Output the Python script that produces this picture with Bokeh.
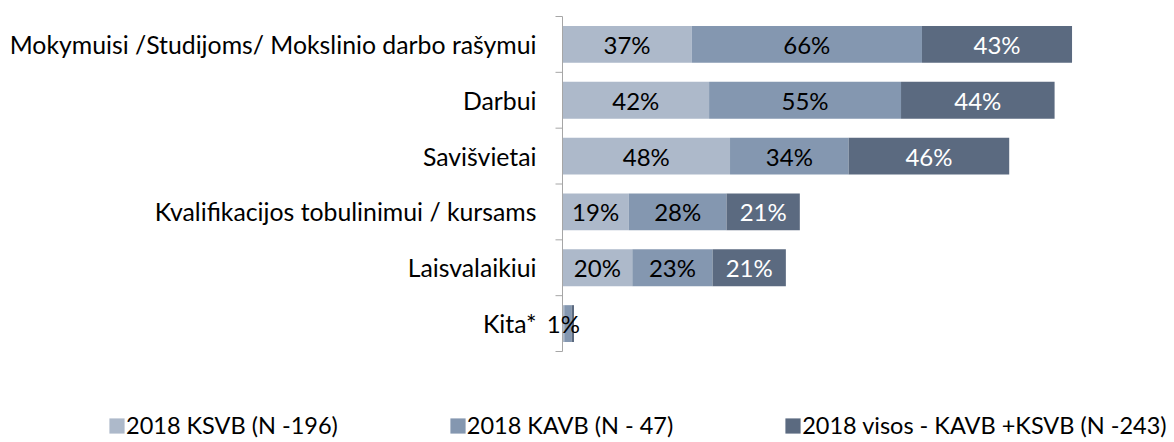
from bokeh.plotting import figure
from bokeh.models import Range1d, Legend, LegendItem, ColumnDataSource
from bokeh.core.properties import value
from bokeh.embed import file_html
from bokeh.resources import INLINE

categories = ["Mokymuisi /Studijoms/ Mokslinio darbo rašymui", "Darbui", "Savišvietai",
              "Kvalifikacijos tobulinimui / kursams", "Laisvalaikiui", "Kita*"]
ksvb = [37, 42, 48, 19, 20, 0.5]
kavb = [66, 55, 34, 28, 23, 2.1]
visos = [43, 44, 46, 21, 21, 0.7]
ksvb_labels = ["37%", "42%", "48%", "19%", "20%", "1%"]
kavb_labels = ["66%", "55%", "34%", "28%", "23%", ""]
visos_labels = ["43%", "44%", "46%", "21%", "21%", ""]
series_names = ["2018 KSVB (N -196)", "2018 KAVB (N - 47)", "2018 visos - KAVB +KSVB (N -243)"]
colors = ["#ADB9CA", "#8497B0", "#5B6A80"]
text_colors = ["#000000", "#000000", "#FFFFFF"]

FONT = "Lato"
W, H = 1174, 442
AXIS_PX = 562          # pixel position of the value axis
TOP_PX, BOTTOM_PX = 16, 351
PX_PER_PCT = 3.49

n = len(categories)
ys = [i + 0.5 for i in range(n)]
px_per_row = (BOTTOM_PX - TOP_PX) / n

x_range = Range1d(-AXIS_PX / PX_PER_PCT, (W - AXIS_PX) / PX_PER_PCT)
y_range = Range1d(n + (H - BOTTOM_PX) / px_per_row, -TOP_PX / px_per_row)

p = figure(width=W, height=H, output_backend="svg", toolbar_location=None,
           x_range=x_range, y_range=y_range,
           min_border_left=0, min_border_right=0, min_border_top=0, min_border_bottom=0)
p.outline_line_color = None
p.xgrid.visible = False
p.ygrid.visible = False
p.xaxis.visible = False
p.yaxis.visible = False

# bars
series = [ksvb, kavb, visos]
labels = [ksvb_labels, kavb_labels, visos_labels]
left = [0.0] * n
renderers = []
sources = []
for s, lab, col in zip(series, labels, colors):
    right = [l + v for l, v in zip(left, s)]
    src = ColumnDataSource(dict(y=ys, left=left, right=right,
                                mid=[(l + r) / 2 for l, r in zip(left, right)], lab=lab))
    r = p.hbar(y="y", left="left", right="right", height=0.66, source=src,
               fill_color=col, line_color=None)
    renderers.append(r)
    sources.append(src)
    left = right

# category axis: line, boundary ticks, labels
tick_len = 7 / PX_PER_PCT
bounds = list(range(n + 1))
p.segment(x0=[0], y0=[0], x1=[0], y1=[n], line_color="#A6A6A6", line_width=1)
p.segment(x0=[-tick_len] * len(bounds), y0=bounds, x1=[0] * len(bounds), y1=bounds,
          line_color="#A6A6A6", line_width=1)
p.text(x=[0] * n, y=ys, text=categories, x_offset=-26, text_align="right",
       text_baseline="middle", text_color="#000000", text_font=value(FONT),
       text_font_size="24.8px")

# value labels
for src, tcol in zip(sources, text_colors):
    p.text(x="mid", y="y", text="lab", source=src, text_align="center",
           text_baseline="middle", text_color=tcol, text_font=value(FONT),
           text_font_size="24px")

legend = Legend(items=[LegendItem(label=nm, renderers=[r]) for nm, r in zip(series_names, renderers)],
                orientation="horizontal", location=(107, 3),
                glyph_width=19, glyph_height=19, label_standoff=0, spacing=110,
                padding=0, margin=0, border_line_color=None, background_fill_alpha=0,
                label_text_font=FONT, label_text_font_size="23.5px", label_text_color="#000000")
p.add_layout(legend, "center")

open("out.html", "w").write(file_html(p, INLINE))
